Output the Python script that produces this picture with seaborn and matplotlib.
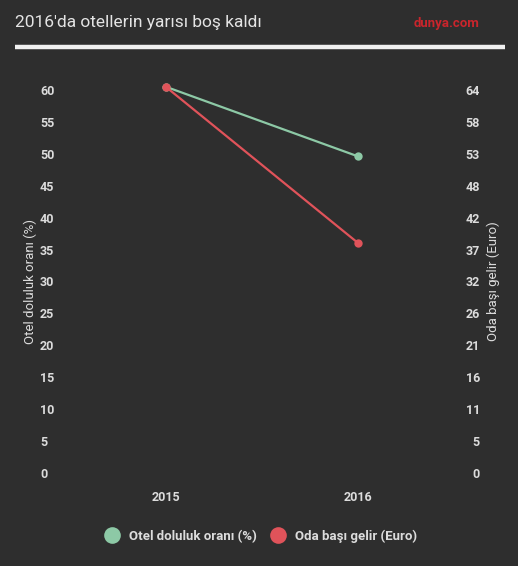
import seaborn as sns
import pandas as pd
import matplotlib.pyplot as plt
from matplotlib.lines import Line2D

years = ['2015', '2016']
occupancy = [60.5, 49.6]          # Otel doluluk oranı (%)
revenue = [64.1, 38.2]            # Oda başı gelir (Euro)
left_ticks = [0, 5, 10, 15, 20, 25, 30, 35, 40, 45, 50, 55, 60]
right_max = 63.6
right_labels = ['0', '5', '11', '16', '21', '26', '32', '37', '42', '48', '53', '58', '64']

bg = '#2e2e2e'
green = '#8dc9a6'
red = '#e0535a'
txt = '#dcdcdc'

sns.set_style('dark')
plt.rcParams['font.family'] = ['Roboto', 'DejaVu Sans']

df_occ = pd.DataFrame({'year': years, 'value': occupancy})
df_rev = pd.DataFrame({'year': years, 'value': revenue})

fig = plt.figure(figsize=(5.18, 5.66), dpi=100, facecolor=bg)
ax = fig.add_axes([70 / 518, 1 - 473 / 566, 384 / 518, 383 / 566])
ax.set_facecolor(bg)
ax2 = ax.twinx()

sns.lineplot(data=df_occ, x='year', y='value', ax=ax, color=green, linewidth=1.6,
             marker='o', markersize=6, markeredgewidth=0, clip_on=False, zorder=3)
sns.lineplot(data=df_rev, x='year', y='value', ax=ax2, color=red, linewidth=1.6,
             marker='o', markersize=6, markeredgewidth=0, clip_on=False, zorder=3)

ax.set_xlim(-0.5, 1.5)
ax.set_ylim(0, 60)
ax2.set_ylim(0, right_max)
ax.set_yticks(left_ticks)
ax.set_yticklabels([str(t) for t in left_ticks], ha='left')
ax2.set_yticks([right_max * i / 12 for i in range(13)])
ax2.set_yticklabels(right_labels, ha='right')

ax.tick_params(axis='y', length=0, pad=21.6, labelsize=9, labelcolor=txt)
ax2.tick_params(axis='y', length=0, pad=18.7, labelsize=9, labelcolor=txt)
ax.tick_params(axis='x', length=0, pad=13, labelsize=9, labelcolor=txt)
for lab in ax.get_xticklabels() + ax.get_yticklabels() + ax2.get_yticklabels():
    lab.set_fontweight('bold')

ax.set_xlabel('')
ax.set_ylabel('Otel doluluk oranı (%)', color=txt, fontsize=9.5, labelpad=2)
ax2.set_ylabel('Oda başı gelir (Euro)', color=txt, fontsize=9.5, labelpad=5)
ax.grid(False)
ax2.grid(False)
for a in (ax, ax2):
    for s in a.spines.values():
        s.set_visible(False)

fig.text(15 / 518, 1 - 23 / 566, "2016'da otellerin yarısı boş kaldı", color='#e4e4e4',
         fontsize=12.5, va='center', ha='left')
fig.text(480 / 518, 1 - 23 / 566, 'dunya.com', color='#c9252c', fontsize=9.5,
         fontweight='bold', va='center', ha='right')
fig.add_artist(Line2D([15 / 518, 505 / 518], [1 - 47 / 566, 1 - 47 / 566],
                      color='#f0f0f0', linewidth=3.2, solid_capstyle='butt',
                      transform=fig.transFigure))

handles = [Line2D([], [], marker='o', linestyle='', color=green, markersize=12, markeredgewidth=0),
           Line2D([], [], marker='o', linestyle='', color=red, markersize=12, markeredgewidth=0)]
leg = fig.legend(handles, ['Otel doluluk oranı (%)', 'Oda başı gelir (Euro)'], ncol=2,
                 loc='center', bbox_to_anchor=(258 / 518, 1 - 536 / 566), frameon=False,
                 handletextpad=0.3, columnspacing=0.6, prop={'weight': 'bold', 'size': 9.5})
for t in leg.get_texts():
    t.set_color(txt)

fig.savefig('out.png', dpi=100, facecolor=bg)
